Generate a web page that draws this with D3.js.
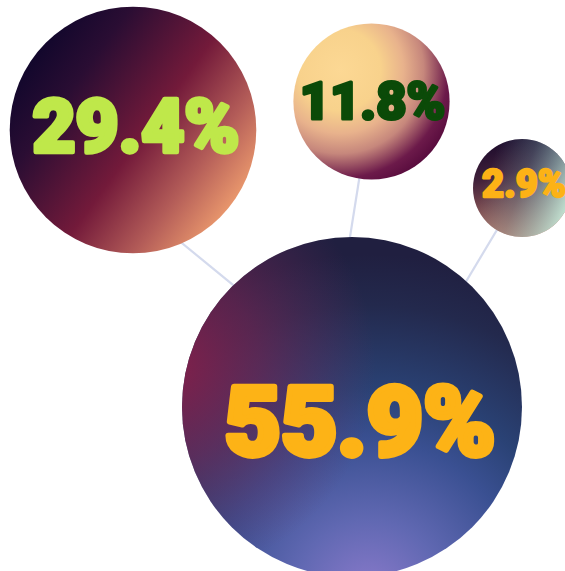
<!DOCTYPE html>
<html>
<head>
<meta charset="utf-8">
<script src="https://cdn.jsdelivr.net/npm/d3@7"></script>
<style>
  html, body { margin: 0; padding: 0; background: #ffffff; }
  svg { display: block; }
</style>
</head>
<body>
<svg id="chart" width="565" height="571"></svg>
<script>
// Shares, largest first
const labels = ["55.9%", "29.4%", "11.8%", "2.9%"];
const values = [55.9, 29.4, 11.8, 2.9];

// Bubble layout (centres) and label nudges
const centers = [[352, 407], [133, 130], [371.5, 101.5], [522, 188]];
const labelShift = [[8, 13], [3, -4], [1, -1.5], [2, -4.5]];

// Connectors: small bubble -> big bubble, with end nudges
const links = [
  { source: 1, target: 0, sourceShift: [0, 73], targetShift: [30, 0] },
  { source: 2, target: 0, sourceShift: [0, 0], targetShift: [-29, 0] },
  { source: 3, target: 0, sourceShift: [0, 0], targetShift: [39, 0] }
];

const textColors = ["#fdb316", "#bfe84a", "#0b4a08", "#fcb216"];

const svg = d3.select("#chart");
const defs = svg.append("defs");

// area-true radius, with a floor so the smallest bubble stays readable
const r = d3.scaleSqrt().domain([0, d3.max(values)]).range([0, 170]);
const radius = v => Math.max(49, r(v));
const fontSize = rad => 14 + 0.49 * rad;

function addStops(g, stops) {
  g.selectAll("stop").data(stops).join("stop")
    .attr("offset", d => d[0]).attr("stop-color", d => d[1])
    .attr("stop-opacity", d => d[2] == null ? 1 : d[2]);
}

// 55.9 : blue body lit from below, crimson on the upper left
const g0 = defs.append("radialGradient").attr("id", "fill0")
  .attr("cx", 0.55).attr("cy", 1.05).attr("r", 1.0);
addStops(g0, [[0, "#8a7acb"], [0.22, "#6068b2"], [0.45, "#3a5092"], [0.6, "#2a4275"], [0.85, "#23294d"], [1, "#201f40"]]);
const o0 = defs.append("radialGradient").attr("id", "over0")
  .attr("cx", -0.05).attr("cy", 0.38).attr("r", 0.62);
addStops(o0, [[0, "#8a1f4a", 0.95], [0.45, "#7a2452", 0.6], [1, "#6a2a5a", 0]]);

// 29.4 : diagonal dark -> crimson -> peach
const g1 = defs.append("linearGradient").attr("id", "fill1")
  .attr("x1", 0.096).attr("y1", 0.205).attr("x2", 0.904).attr("y2", 0.795);
addStops(g1, [[0, "#12072c"], [0.2, "#2a0d33"], [0.545, "#731a3a"], [0.8, "#b35c58"], [1, "#e8966c"]]);

// 11.8 : warm glow fading into plum
const g2 = defs.append("radialGradient").attr("id", "fill2")
  .attr("gradientUnits", "userSpaceOnUse")
  .attr("cx", 340).attr("cy", 70).attr("r", 135);
addStops(g2, [[0, "#fcd894"], [0.3, "#f8d28c"], [0.47, "#e8b28c"], [0.62, "#c6877c"], [0.8, "#6c1a4a"], [1, "#480033"]]);

// 2.9 : dark top, rust bottom, teal/mint to the right
const g3 = defs.append("linearGradient").attr("id", "fill3")
  .attr("x1", 0.3).attr("y1", 0).attr("x2", 0.5).attr("y2", 1);
addStops(g3, [[0, "#1c0b2c"], [0.35, "#40203a"], [1, "#c47e6a"]]);
const o3 = defs.append("linearGradient").attr("id", "over3")
  .attr("x1", 0.15).attr("y1", 0.35).attr("x2", 1).attr("y2", 0.65);
addStops(o3, [[0, "#7ab8b8", 0], [0.4, "#72a8b0", 0.3], [1, "#c8eedc", 0.95]]);

const nodes = values.map((v, i) => ({
  i, value: v, label: labels[i],
  x: centers[i][0], y: centers[i][1], r: radius(v)
}));

// connectors
svg.append("g").selectAll("line").data(links).join("line")
  .attr("x1", d => nodes[d.source].x + d.sourceShift[0])
  .attr("y1", d => nodes[d.source].y + d.sourceShift[1])
  .attr("x2", d => nodes[d.target].x + d.targetShift[0])
  .attr("y2", d => nodes[d.target].y + d.targetShift[1])
  .attr("stroke", "#d4daed").attr("stroke-width", 2.2);

// bubbles
const bubble = svg.append("g").selectAll("g").data(nodes).join("g");
bubble.append("circle")
  .attr("cx", d => d.x).attr("cy", d => d.y).attr("r", d => d.r)
  .attr("fill", d => `url(#fill${d.i})`);
bubble.filter(d => d.i === 0 || d.i === 3).append("circle")
  .attr("cx", d => d.x).attr("cy", d => d.y).attr("r", d => d.r)
  .attr("fill", d => `url(#over${d.i})`);

// labels
bubble.append("text")
  .attr("x", d => d.x + labelShift[d.i][0])
  .attr("y", d => d.y + labelShift[d.i][1] + 0.355 * fontSize(d.r))
  .attr("text-anchor", "middle")
  .attr("font-family", "Roboto, 'Open Sans', sans-serif")
  .attr("font-weight", 900)
  .attr("font-size", d => fontSize(d.r))
  .attr("fill", d => textColors[d.i])
  .attr("stroke", d => textColors[d.i])
  .attr("stroke-width", d => fontSize(d.r) * 0.06)
  .attr("stroke-linejoin", "round")
  .text(d => d.label);
</script>
</body>
</html>
